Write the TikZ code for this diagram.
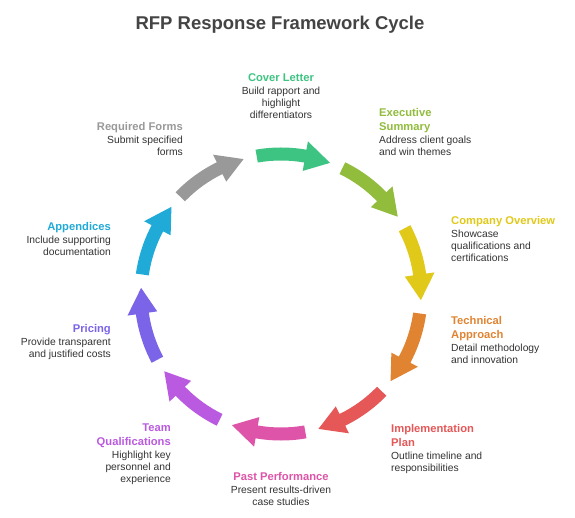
\documentclass[tikz,border=0pt]{standalone}
\usepackage{fontspec}
\setmainfont{Liberation Sans}
\usetikzlibrary{calc}
\definecolor{cCover}{HTML}{3EC482}
\definecolor{cExec}{HTML}{91BC3C}
\definecolor{cComp}{HTML}{E0C918}
\definecolor{cTech}{HTML}{E08432}
\definecolor{cImpl}{HTML}{E65757}
\definecolor{cPast}{HTML}{DE54A8}
\definecolor{cTeam}{HTML}{BA5AE0}
\definecolor{cPric}{HTML}{7C64E8}
\definecolor{cAppx}{HTML}{20AAD8}
\definecolor{cReq}{HTML}{999999}
\definecolor{cBody}{HTML}{333333}
\definecolor{cTitle}{HTML}{444444}
\newcommand\ttl[2]{{\fontsize{11.2}{12}\selectfont\bfseries\color{#1}#2}}
\newcommand\cycarrow[2]{%
  \fill[#2, shift={(281pt,223pt)}]
    ({#1+15}:146.5pt) arc[start angle={#1+15}, end angle={#1-5}, radius=146.5pt]
    -- ({#1-5}:155pt) -- ({#1-15.5}:140pt) -- ({#1-5}:125pt) -- ({#1-5}:133.5pt)
    arc[start angle={#1-5}, end angle={#1+15}, radius=133.5pt] -- cycle;}
\tikzset{
  lab/.style={inner sep=0pt, font=\fontsize{10.3}{12}\selectfont, text=cBody},
  labL/.style={lab, anchor=north west, align=left},
  labR/.style={lab, anchor=north east, align=right},
  labC/.style={lab, anchor=north, align=center}
}
\begin{document}
\begin{tikzpicture}[x=1pt,y=1pt]
\fill[white] (0,0) rectangle (575,517);
\useasboundingbox (0,0) rectangle (575,517);
\node[font=\fontsize{18.5}{20}\selectfont\bfseries, text=cTitle] (title) at (280,492) {RFP Response Framework Cycle};
% arrows
\cycarrow{85}{cCover}
\cycarrow{49}{cExec}
\cycarrow{13}{cComp}
\cycarrow{-23}{cTech}
\cycarrow{-59}{cImpl}
\cycarrow{-95}{cPast}
\cycarrow{-131}{cTeam}
\cycarrow{-167}{cPric}
\cycarrow{-203}{cAppx}
\cycarrow{-239}{cReq}
% labels
\node[labC] (cover) at (281,444) {\ttl{cCover}{Cover Letter}\\[1pt]Build rapport and\\highlight\\differentiators};
\node[labL] (exec) at (379,409) {\ttl{cExec}{Executive}\\[2pt]\ttl{cExec}{Summary}\\[1pt]Address client goals\\and win themes};
\node[labL] (comp) at (451,301) {\ttl{cComp}{Company Overview}\\[1pt]Showcase\\qualifications and\\certifications};
\node[labL] (tech) at (451,201) {\ttl{cTech}{Technical}\\[2pt]\ttl{cTech}{Approach}\\[1pt]Detail methodology\\and innovation};
\node[labL] (impl) at (391,93) {\ttl{cImpl}{Implementation}\\[2pt]\ttl{cImpl}{Plan}\\[1pt]Outline timeline and\\responsibilities};
\node[labC] (past) at (281,45) {\ttl{cPast}{Past Performance}\\[1pt]Present results-driven\\case studies};
\node[labR] (team) at (171,93) {\ttl{cTeam}{Team}\\[2pt]\ttl{cTeam}{Qualifications}\\[1pt]Highlight key\\personnel and\\experience};
\node[labR] (pric) at (111,193) {\ttl{cPric}{Pricing}\\[1pt]Provide transparent\\and justified costs};
\node[labR] (appx) at (111,295) {\ttl{cAppx}{Appendices}\\[1pt]Include supporting\\documentation};
\node[labR] (req) at (183,395) {\ttl{cReq}{Required Forms}\\[1pt]Submit specified\\forms};
\end{tikzpicture}
\end{document}
